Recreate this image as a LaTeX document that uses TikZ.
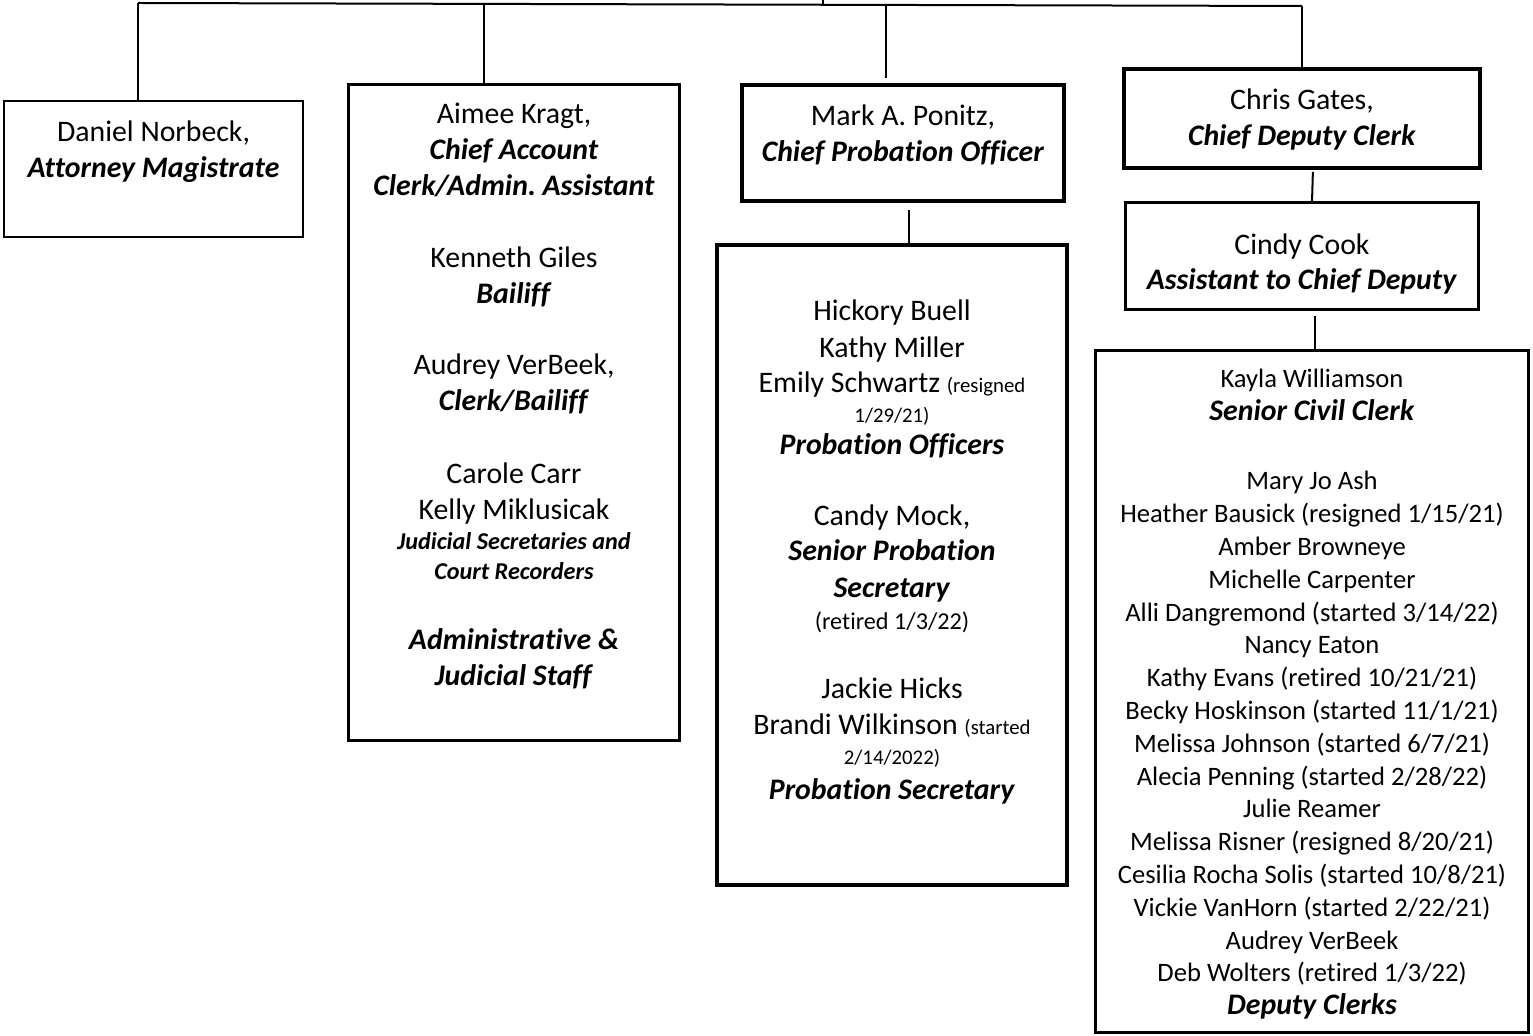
\documentclass[tikz,border=0pt]{standalone}
\usepackage{fontspec}
\setmainfont{Carlito}[Ligatures=CommonOff]
\usepackage{tikz}
\usetikzlibrary{positioning,calc}
\frenchspacing
\newcommand{\jobtitle}[1]{\textbf{\textit{#1}}}
\newcommand{\smallnote}{\fontsize{10.4}{12.5}\selectfont}
\newcommand{\midnote}{\fontsize{12.1}{14.5}\selectfont}
\newcommand{\listsize}{\fontsize{13.3}{16.4}\selectfont}
\newcommand{\titlesize}{\fontsize{14.9}{18}\selectfont}

\begin{document}
\begin{tikzpicture}[
  x=0.5pt, y=-0.5pt,
  font=\titlesize,
  box/.style={draw, line width=1.5pt, inner sep=0pt, outer sep=0pt, align=flush center, anchor=north},
  headbox/.style={box, line width=2pt},
  link/.style={draw, line width=1pt}
]
\useasboundingbox (0,0) rectangle (1533,1036);

% top row
\node[box, line width=1pt, text width=149.5pt, text height=20.5pt, text depth=47.5pt] (dan) at (153.5,101)
  {Daniel Norbeck,\\ \jobtitle{Attorney Magistrate}};
\node[box, text width=165.5pt, text height=19.5pt, text depth=308.5pt] (aimee) at (514,84.5)
  {Aimee Kragt,\\ \jobtitle{Chief Account}\\ \jobtitle{Clerk/Admin. Assistant}\\[18pt]
   Kenneth Giles\\ \jobtitle{Bailiff}\\[17.5pt]
   Audrey VerBeek,\\ \jobtitle{Clerk/Bailiff}\\[18.5pt]
   Carole Carr\\ Kelly Miklusicak\\[-3pt]
   {\midnote\jobtitle{Judicial Secretaries and}}\\[-3pt]
   {\midnote\jobtitle{Court Recorders}}\\[17pt]
   \jobtitle{Administrative \&}\\ \jobtitle{Judicial Staff}};
\node[headbox, text width=161pt, text height=20.5pt, text depth=37.5pt] (mark) at (903,85)
  {Mark A. Ponitz,\\ \jobtitle{Chief Probation Officer}};
\node[headbox, text width=178pt, text height=20.5pt, text depth=29pt] (chris) at (1302,69)
  {Chris Gates,\\ \jobtitle{Chief Deputy Clerk}};

% lower boxes
\node[headbox, text width=175pt, text height=38pt, text depth=282pt, below=22pt of mark, xshift=-5.5pt] (hick)
  {Hickory Buell\\[0.5pt] Kathy Miller\\[-0.5pt]
   Emily Schwartz {\smallnote (resigned}\\[-3pt] {\smallnote 1/29/21)}\\[-2pt]
   \jobtitle{Probation Officers}\\[17.5pt]
   Candy Mock,\\[-0.5pt] \jobtitle{Senior Probation}\\[0.5pt] \jobtitle{Secretary}\\[-2pt]
   {\midnote (retired 1/3/22)}\\[16.5pt]
   Jackie Hicks\\ Brandi Wilkinson {\smallnote (started}\\[-3pt] {\smallnote 2/14/2022)}\\[-0.5pt]
   \jobtitle{Probation Secretary}};
\node[box, text width=176.5pt, text height=26.25pt, text depth=27.25pt, below=17.25pt of chris] (cindy)
  {Cindy Cook\\[-0.5pt] \jobtitle{Assistant to Chief Deputy}};
\node[box, font=\listsize, text width=216.5pt, text height=18.75pt, text depth=322.25pt, below=20.5pt of cindy, xshift=5pt] (kayla)
  {Kayla Williamson\\ {\titlesize\jobtitle{Senior Civil Clerk}}\\[18.2pt]
   Mary Jo Ash\\ Heather Bausick (resigned 1/15/21)\\ Amber Browneye\\ Michelle Carpenter\\
   Alli Dangremond (started 3/14/22)\\ Nancy Eaton\\ Kathy Evans (retired 10/21/21)\\
   Becky Hoskinson (started 11/1/21)\\ Melissa Johnson (started 6/7/21)\\
   Alecia Penning (started 2/28/22)\\ Julie Reamer\\ Melissa Risner (resigned 8/20/21)\\
   Cesilia Rocha Solis (started 10/8/21)\\ Vickie VanHorn (started 2/22/21)\\
   Audrey VerBeek\\ Deb Wolters (retired 1/3/22)\\ {\titlesize\jobtitle{Deputy Clerks}}};

% connectors
\coordinate (root) at (823,0);
\coordinate (busL) at (138,3);
\coordinate (busR) at (1302,6);
\coordinate (dropA) at (484,4);
\coordinate (dropM) at (886,5);
\draw[link] (busL) -- (busR);
\draw[link] (root) -- ++(0,6);
\draw[link] (busL) -- (busL |- dan.north);
\draw[link] (dropA) -- (dropA |- aimee.north);
\draw[link, shorten >=3.5pt] (dropM) -- (dropM |- mark.north);
\draw[link] (busR) -- (chris.north);
\draw[link, shorten <=4.5pt] ($(mark.south)+(6,0)$) -- ($(hick.north)+(17,0)$);
\draw[link, shorten <=2pt] ($(chris.south)+(11,0)$) -- ($(cindy.north)+(10,0)$);
\draw[link, shorten <=3.25pt] ($(cindy.south)+(13,0)$) -- ($(kayla.north)+(3,0)$);
\end{tikzpicture}
\end{document}
